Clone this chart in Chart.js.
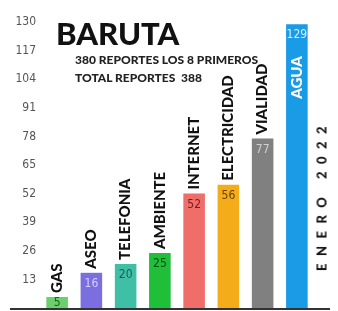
<!DOCTYPE html>
<html>
<head>
<meta charset="utf-8">
<script src="https://cdn.jsdelivr.net/npm/chart.js@4.4.1/dist/chart.umd.min.js"></script>
<style>
  html, body { margin: 0; padding: 0; background: #fff; }
  #wrap { position: relative; width: 338px; height: 311px; overflow: hidden; }
  canvas { position: absolute; left: 0; top: 0; }
  .txt { position: absolute; font-family: Lato, 'Open Sans', sans-serif; color: #111; white-space: pre; line-height: 1; }
  #title { left: 56px; top: 18px; font-size: 31px; font-weight: 900; }
  #sub1 { left: 75px; top: 54px; font-size: 12px; font-weight: 900; color: #222; }
  #sub2 { left: 75px; top: 72px; font-size: 12px; font-weight: 900; color: #222; }
  #month { left: 322px; top: 195px; font-size: 13px; font-weight: 900; letter-spacing: 7.5px;
           transform: translate(-50%, -50%) rotate(-90deg); }
</style>
</head>
<body>
<div id="wrap">
  <canvas id="chart" width="338" height="311"></canvas>
  <div class="txt" id="title">BARUTA</div>
  <div class="txt" id="sub1">380 REPORTES LOS 8 PRIMEROS</div>
  <div class="txt" id="sub2">TOTAL REPORTES  388</div>
  <div class="txt" id="month">ENERO 2022</div>
</div>
<script>
const categories = ['GAS', 'ASEO', 'TELEFONIA', 'AMBIENTE', 'INTERNET', 'ELECTRICIDAD', 'VIALIDAD', 'AGUA'];
const reportes = [5, 16, 20, 25, 52, 56, 77, 129];
const barColors = ['#6bcf6b', '#7a6ee0', '#3fbfa5', '#1fbf3a', '#f06e6a', '#f4ac1a', '#808080', '#1a9be5'];
const valueColors = ['#1d5c1d', '#d6d2ff', '#1c5e50', '#0c4d12', '#7a1c1c', '#6a4200', '#d0d0d0', '#d6eeff'];
const yTicks = [13, 26, 39, 52, 65, 78, 91, 104, 117, 130];

const LABEL_FONT = '900 15px Lato, sans-serif';
const VALUE_FONT = '12px "Liberation Sans Narrow", "DejaVu Sans Condensed", sans-serif';

// --- bar labels: category name rotated above bar, value inside the top ---
const barLabels = {
  id: 'barLabels',
  afterDatasetsDraw(chart) {
    const ctx = chart.ctx;
    const meta = chart.getDatasetMeta(0);
    const base = chart.scales.y.getPixelForValue(0);

    meta.data.forEach((bar, i) => {
      const top = bar.y;
      const h = base - top;

      // value
      ctx.save();
      ctx.font = VALUE_FONT;
      ctx.fillStyle = valueColors[i];
      ctx.textAlign = 'center';
      ctx.textBaseline = 'middle';
      ctx.fillText(String(reportes[i]), bar.x, top + Math.min(11, h / 2));
      ctx.restore();

      // category
      ctx.save();
      ctx.font = LABEL_FONT;
      const w = ctx.measureText(categories[i]).width;
      ctx.translate(bar.x, 0);
      ctx.rotate(-Math.PI / 2);
      ctx.textBaseline = 'middle';
      if (top - 4 - w > chart.chartArea.top + 20) {
        ctx.fillStyle = '#111';
        ctx.textAlign = 'left';
        ctx.fillText(categories[i], -(top - 4), 0);
      } else {
        ctx.fillStyle = '#fff';
        ctx.textAlign = 'right';
        ctx.fillText(categories[i], -(top + 32), 0);
      }
      ctx.restore();
    });
  }
};

// --- baseline under the bars ---
const baseLine = {
  id: 'baseLine',
  afterDatasetsDraw(chart) {
    const ctx = chart.ctx;
    const y = chart.scales.y.getPixelForValue(0) + 1;
    ctx.save();
    ctx.strokeStyle = '#333';
    ctx.lineWidth = 2;
    ctx.beginPath();
    ctx.moveTo(10, y);
    ctx.lineTo(chart.width - 8, y);
    ctx.stroke();
    ctx.restore();
  }
};

new Chart(document.getElementById('chart'), {
  type: 'bar',
  data: {
    labels: categories,
    datasets: [{
      data: reportes,
      backgroundColor: barColors,
      borderWidth: 0,
      categoryPercentage: 1,
      barPercentage: 0.63,
    }]
  },
  options: {
    responsive: false,
    animation: false,
    layout: { padding: { top: 22, right: 24, bottom: 3, left: 0 } },
    plugins: { legend: { display: false }, tooltip: { enabled: false } },
    scales: {
      x: { display: false },
      y: {
        min: 0,
        max: 130,
        afterFit(scale) {
          scale.width = 40;
          scale.paddingTop = 0;
          scale.paddingBottom = 0;
        },
        afterBuildTicks(scale) { scale.ticks = yTicks.map(v => ({ value: v })); },
        grid: { display: false, drawTicks: false },
        border: { display: false },
        ticks: {
          padding: 4,
          color: '#555',
          font: { family: '"Liberation Sans Narrow", "DejaVu Sans Condensed", sans-serif', size: 12 },
        }
      }
    }
  },
  plugins: [barLabels, baseLine]
});
</script>
</body>
</html>
